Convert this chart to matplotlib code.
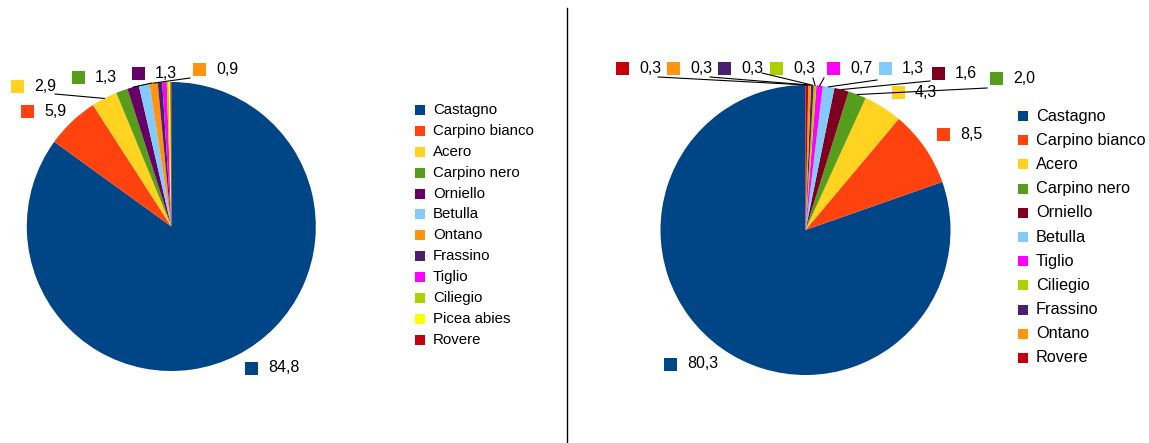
import matplotlib
matplotlib.use("Agg")
import matplotlib.pyplot as plt
from matplotlib.patches import Rectangle
from matplotlib.lines import Line2D
import numpy as np

plt.rcParams['font.family'] = ['Liberation Sans', 'DejaVu Sans']

# ---------------- dati ----------------
left_species = ["Castagno", "Carpino bianco", "Acero", "Carpino nero", "Orniello",
                "Betulla", "Ontano", "Frassino", "Tiglio", "Ciliegio",
                "Picea abies", "Rovere"]
left_values = [84.8, 5.9, 2.9, 1.3, 1.3, 1.2, 0.9, 0.5, 0.5, 0.2, 0.2, 0.1]
left_colors = ["#004586", "#ff420e", "#ffd320", "#579d1c", "#660066",
               "#83caff", "#ff950e", "#4b1f6f", "#ff00ff", "#aecf00",
               "#ffff00", "#c5000b"]
left_shown = ["84,8", "5,9", "2,9", "1,3", "1,3", None, "0,9",
              None, None, None, None, None]

right_species = ["Castagno", "Carpino bianco", "Acero", "Carpino nero", "Orniello",
                 "Betulla", "Tiglio", "Ciliegio", "Frassino", "Ontano", "Rovere"]
right_values = [80.3, 8.5, 4.3, 2.0, 1.6, 1.3, 0.7, 0.3, 0.3, 0.3, 0.3]
right_colors = ["#004586", "#ff420e", "#ffd320", "#579d1c", "#7e0021",
                "#83caff", "#ff00ff", "#aecf00", "#4b1f6f", "#ff950e", "#c5000b"]
right_shown = ["80,3", "8,5", "4,3", "2,0", "1,6", "1,3", "0,7",
               "0,3", "0,3", "0,3", "0,3"]

W, H = 1149, 443
fig = plt.figure(figsize=(W / 100, H / 100), dpi=100)

# posizione etichette (pixel, origine in alto a sinistra): box x, centro y, attacco linea
left_lab_pos = [(245, 368, None), (21, 111, None), (11, 86.5, (55, 94)),
                (72, 77.5, None), (132, 73.5, (152, 83)), None, (193, 69.5, (190, 78)),
                None, None, None, None, None]
right_lab_pos = [(664, 364, None), (937, 134.5, None), (892, 92.5, None),
                 (990, 78.5, (987, 88)), (932, 73.5, (930, 81)), (879, 68.5, (877, 80)),
                 (827, 68.5, (824, 78)), (770, 68.5, (813, 78)), (718, 68.5, (762, 73)),
                 (667, 68.5, (710, 77)), (616, 68.5, (658, 77))]


def px_box(x, y, w, h):
    return [x / W, (H - y - h) / H, w / W, h / H]


def draw_pie(cx, cy, r, values, colors, counter, shown, lab_pos):
    ax = fig.add_axes(px_box(cx - r, cy - r, 2 * r, 2 * r))
    wedges, _ = ax.pie(values, colors=colors, startangle=90, counterclock=counter,
                       radius=1.0, wedgeprops=dict(linewidth=0))
    ax.set_xlim(-1, 1)
    ax.set_ylim(-1, 1)
    ax.set_axis_off()
    for w, txt, pos in zip(wedges, shown, lab_pos):
        if txt is None or pos is None:
            continue
        bx, by, anchor = pos
        fig.patches.append(Rectangle(((bx) / W, (H - by - 6.5) / H), 13 / W, 13 / H,
                                     transform=fig.transFigure, facecolor=w.get_facecolor(),
                                     edgecolor='none'))
        fig.text((bx + 23) / W, (H - by) / H, txt, fontsize=11.5, va='center', ha='left',
                 color='#000000')
        if anchor is not None:
            mid = np.deg2rad((w.theta1 + w.theta2) / 2)
            ex = cx + r * np.cos(mid)
            ey = cy - r * np.sin(mid)
            fig.lines.append(Line2D([anchor[0] / W, ex / W], [(H - anchor[1]) / H, (H - ey) / H],
                                    transform=fig.transFigure, color='black', lw=0.8))
    return wedges


def draw_legend(x, y0, dy, names, colors, fs):
    for i, (n, c) in enumerate(zip(names, colors)):
        y = y0 + i * dy
        fig.patches.append(Rectangle((x / W, (H - y - 5) / H), 10 / W, 10 / H,
                                     transform=fig.transFigure, facecolor=c, edgecolor='none'))
        fig.text((x + 18) / W, (H - y) / H, n, fontsize=fs, va='center', ha='left')


draw_pie(171.3, 226.5, 144.5, left_values, left_colors, False, left_shown, left_lab_pos)
draw_pie(805.5, 230, 145, right_values, right_colors, True, right_shown, right_lab_pos)

draw_legend(415, 110, 20.9, left_species, left_colors, 10.8)
draw_legend(1018, 116, 24.2, right_species, right_colors, 11.7)

# linea di separazione
fig.lines.append(Line2D([567 / W, 567 / W], [(H - 8) / H, 0], transform=fig.transFigure,
                        color='black', lw=1))

fig.savefig("out.png", dpi=100)
